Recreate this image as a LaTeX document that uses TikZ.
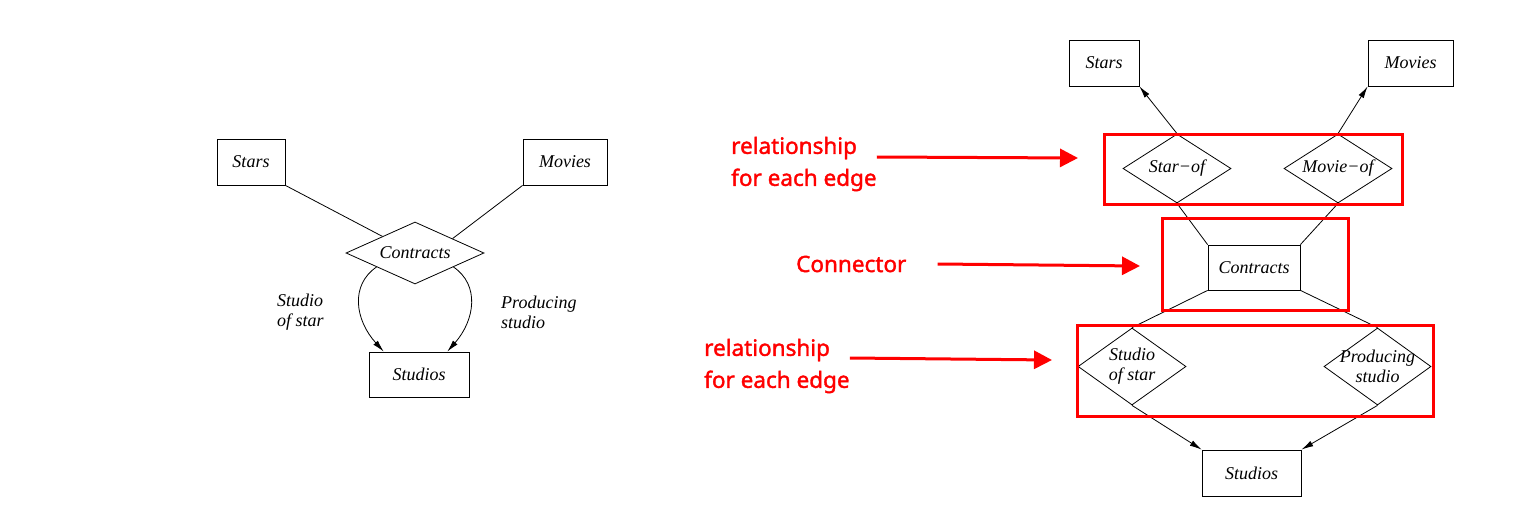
\documentclass[tikz,border=0pt]{standalone}
\usepackage{fontspec}
\setmainfont{Liberation Serif}
\newfontfamily\notefont{Noto Sans}[FakeBold=1.6]
\usetikzlibrary{positioning,shapes.geometric,arrows.meta}

\begin{document}
\begin{tikzpicture}[
    x=1pt, y=-1pt,
    entity/.style={rectangle, draw, line width=0.8pt, inner sep=0pt, font=\fontsize{18}{20}\selectfont\itshape},
    relation/.style={diamond, draw, line width=0.8pt, inner sep=0pt},
    rel text/.style={inner sep=0pt, align=center, font=\fontsize{18}{20}\selectfont\itshape},
    edge/.style={draw, line width=0.8pt},
    to edge/.style={edge, -{Latex[length=12pt, width=6pt]}},
    role/.style={inner sep=0pt, align=left, anchor=west, font=\fontsize{18}{20}\selectfont\itshape},
    red box/.style={draw=red, line width=3pt, inner sep=0pt},
    note/.style={text=red, inner sep=0pt, align=left, anchor=west, font=\notefont\bfseries\fontsize{22.5}{32}\selectfont},
    note edge/.style={draw=red, line width=3pt, -{Triangle[length=18pt, width=18pt]}}
]
    \useasboundingbox (0,0) rectangle (1518,532);

    \node[entity, minimum width=68pt, minimum height=46pt] (stars) at (251,162) {Stars};
    \node[entity, minimum width=84pt, minimum height=46pt] (movies) at (565,162) {Movies};
    \node[relation, minimum width=138pt, minimum height=62pt,
        label={[rel text]center:Contracts}] (contracts) at (415,253) {};
    \node[entity, minimum width=100pt, minimum height=45pt] (studios) at (419,374.5) {Studios};
    \node[role] (star-role) at (277,312) {Studio\\of star};
    \node[role] (prod-role) at (501,312) {Producing\\studio};

    \draw[edge] (stars.south east) -- (contracts.153);
    \draw[edge] (movies.south west) -- (contracts.21);
    \draw[to edge] (contracts.200) .. controls (350,285) and (355,320) .. (studios.147);
    \draw[to edge] (contracts.340) .. controls (480,285) and (475,320) .. (studios.39);

    \node[entity, minimum width=70pt, minimum height=46pt] (stars-r) at (1104,63) {Stars};
    \node[entity, minimum width=85pt, minimum height=46pt] (movies-r) at (1410.5,63) {Movies};
    \node[relation, minimum width=108pt, minimum height=69pt,
        label={[rel text]center:Star−of}] (star-of) at (1177,168.5) {};
    \node[relation, minimum width=108pt, minimum height=69pt,
        label={[rel text]center:Movie−of}] (movie-of) at (1338,168.5) {};
    \node[entity, minimum width=92pt, minimum height=45pt] (contracts-r) at (1254,267.5) {Contracts};
    \node[relation, minimum width=108pt, minimum height=77pt,
        label={[rel text]center:Studio\\of star}] (studio-of-star) at (1132,366.5) {};
    \node[relation, minimum width=107pt, minimum height=77pt,
        label={[rel text]center:Producing\\studio}] (producing) at (1377.5,366.5) {};
    \node[entity, minimum width=99pt, minimum height=46pt] (studios-r) at (1251.5,473) {Studios};

    \draw[to edge] (star-of.north) -- (stars-r.south east);
    \draw[to edge] (movie-of.north) -- (movies-r.south west);
    \foreach \a/\b in {star-of.south/contracts-r.north west, movie-of.south/contracts-r.north east,
        contracts-r.south west/studio-of-star.north, contracts-r.south east/producing.north} {
        \draw[edge] (\a) -- (\b);
    }
    \draw[to edge] (studio-of-star.south) -- (studios-r.north west);
    \draw[to edge] (producing.south) -- (studios-r.north east);

    \node[red box, minimum width=298pt, minimum height=70pt] (box-top) at (1253,169.5) {};
    \node[red box, minimum width=186pt, minimum height=92pt] (box-mid) at (1255,264) {};
    \node[red box, minimum width=356pt, minimum height=91pt] (box-bot) at (1255,371) {};

    \node[note] (note-top) at (731,164) {relationship\\for each edge};
    \node[note] (note-mid) at (796,264) {Connector};
    \node[note] (note-bot) at (704,366) {relationship\\for each edge};
    \coordinate (tip-top) at (1078,158);
    \coordinate (tip-mid) at (1140,266);
    \coordinate (tip-bot) at (1052,360);

    \draw[note edge] ([yshift=7pt]note-top.east) -- (tip-top);
    \draw[note edge] ([xshift=31pt]note-mid.east) -- (tip-mid);
    \draw[note edge] ([yshift=8pt]note-bot.east) -- (tip-bot);

\end{tikzpicture}
\end{document}
